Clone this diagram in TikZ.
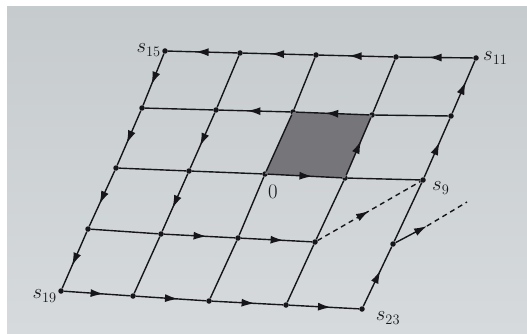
\documentclass[tikz,border=0pt]{standalone}
\usetikzlibrary{arrows.meta,decorations.markings}
\definecolor{papertop}{RGB}{198,203,206}
\definecolor{paperbot}{RGB}{214,218,220}
\definecolor{cellshade}{RGB}{118,118,122}
\definecolor{ink}{RGB}{22,22,26}
\tikzset{
  gridline/.style={ink, line width=1.4pt},
  midarrow/.style={postaction={decorate},
    decoration={markings, mark=at position #1 with {\arrow{Latex[length=13pt,width=8pt]}}}},
  midarrow/.default=0.6,
  dotpt/.style={circle, fill=ink, inner sep=0pt, minimum size=5.5pt},
  lab/.style={font=\fontsize{20}{24}\selectfont, text=ink, inner sep=1pt},
  dashline/.style={ink, line width=1.4pt, dash pattern=on 5pt off 4pt},
}
\begin{document}
\begin{tikzpicture}[x=1pt,y=-1pt]
\useasboundingbox (0,0) rectangle (527,334);
\fill[white] (0,0) rectangle (527,334);
\shade[top color=papertop, bottom color=paperbot] (7,7) rectangle (527,333);

% grid points
\node[dotpt] (p00) at (165,51) {};
\node[dotpt] (p01) at (240,53) {};
\node[dotpt] (p02) at (316,55) {};
\node[dotpt] (p03) at (396,57) {};
\node[dotpt] (p04) at (476,58) {};
\node[dotpt] (p10) at (142,108) {};
\node[dotpt] (p11) at (216,110) {};
\node[dotpt] (p12) at (293,112) {};
\node[dotpt] (p13) at (372,115) {};
\node[dotpt] (p14) at (451,116) {};
\node[dotpt] (p20) at (116,168) {};
\node[dotpt] (p21) at (189,171) {};
\node[dotpt] (p22) at (265,174) {};
\node[dotpt] (p23) at (345,178) {};
\node[dotpt] (p24) at (423,180) {};
\node[dotpt] (p30) at (88,229) {};
\node[dotpt] (p31) at (161,234) {};
\node[dotpt] (p32) at (238,238) {};
\node[dotpt] (p33) at (315,242) {};
\node[dotpt] (p34) at (393,244) {};
\node[dotpt] (p40) at (61,291) {};
\node[dotpt] (p41) at (133,296) {};
\node[dotpt] (p42) at (209,301) {};
\node[dotpt] (p43) at (286,305) {};
\node[dotpt] (p44) at (362,309) {};
\coordinate (a) at (427,226);
\coordinate (b) at (467,202);

% shaded cell
\fill[cellshade] (p12.center) -- (p13.center) -- (p23.center) -- (p22.center) -- cycle;

% top row (leftward)
\draw[gridline, midarrow] (p01) -- (p00);
\draw[gridline, midarrow] (p02) -- (p01);
\draw[gridline, midarrow] (p03) -- (p02);
\draw[gridline, midarrow] (p04) -- (p03);
% left edge (downward)
\draw[gridline, midarrow] (p00) -- (p10);
\draw[gridline, midarrow] (p10) -- (p20);
\draw[gridline, midarrow] (p20) -- (p30);
\draw[gridline, midarrow] (p30) -- (p40);
% bottom row (rightward)
\draw[gridline, midarrow] (p40) -- (p41);
\draw[gridline, midarrow] (p41) -- (p42);
\draw[gridline, midarrow] (p42) -- (p43);
\draw[gridline, midarrow] (p43) -- (p44);
% right edge
\draw[gridline, midarrow] (p44) -- (p34);
\draw[gridline] (p34) -- (p24);
\draw[gridline, midarrow] (p24) -- (p14);
\draw[gridline, midarrow] (p14) -- (p04);
% row 1
\draw[gridline] (p11) -- (p10);
\draw[gridline, midarrow] (p12) -- (p11);
\draw[gridline, midarrow] (p13) -- (p12);
\draw[gridline] (p14) -- (p13);
% row 2
\draw[gridline] (p20) -- (p21);
\draw[gridline] (p21) -- (p22);
\draw[gridline, midarrow] (p22) -- (p23);
\draw[gridline] (p23) -- (p24);
% row 3
\draw[gridline] (p30) -- (p31);
\draw[gridline, midarrow] (p31) -- (p32);
\draw[gridline, midarrow] (p32) -- (p33);
% column 1
\draw[gridline] (p01) -- (p11);
\draw[gridline, midarrow] (p11) -- (p21);
\draw[gridline, midarrow] (p21) -- (p31);
\draw[gridline] (p31) -- (p41);
% column 2
\draw[gridline] (p02) -- (p12);
\draw[gridline] (p12) -- (p22);
\draw[gridline] (p22) -- (p32);
\draw[gridline] (p32) -- (p42);
% column 3
\draw[gridline] (p03) -- (p13);
\draw[gridline, midarrow] (p23) -- (p13);
\draw[gridline] (p23) -- (p33);
\draw[gridline] (p33) -- (p43);
% dashed links
\draw[dashline, midarrow=0.5] (p33) -- (p24);
\draw[gridline, -{Latex[length=13pt,width=8pt]}] (p34) -- (a);
\draw[dashline] (a) -- (b);

% labels
\node[lab, anchor=east] (l15) at (162,50) {$s_{15}$};
\node[lab, anchor=west] (l11) at (482,58) {$s_{11}$};
\node[lab, anchor=west] (l9) at (431,188) {$s_{9}$};
\node[lab, anchor=east] (l19) at (58,296) {$s_{19}$};
\node[lab] (l23) at (388,318) {$s_{23}$};
\node[lab] (l0) at (273,192) {$0$};
\end{tikzpicture}
\end{document}
